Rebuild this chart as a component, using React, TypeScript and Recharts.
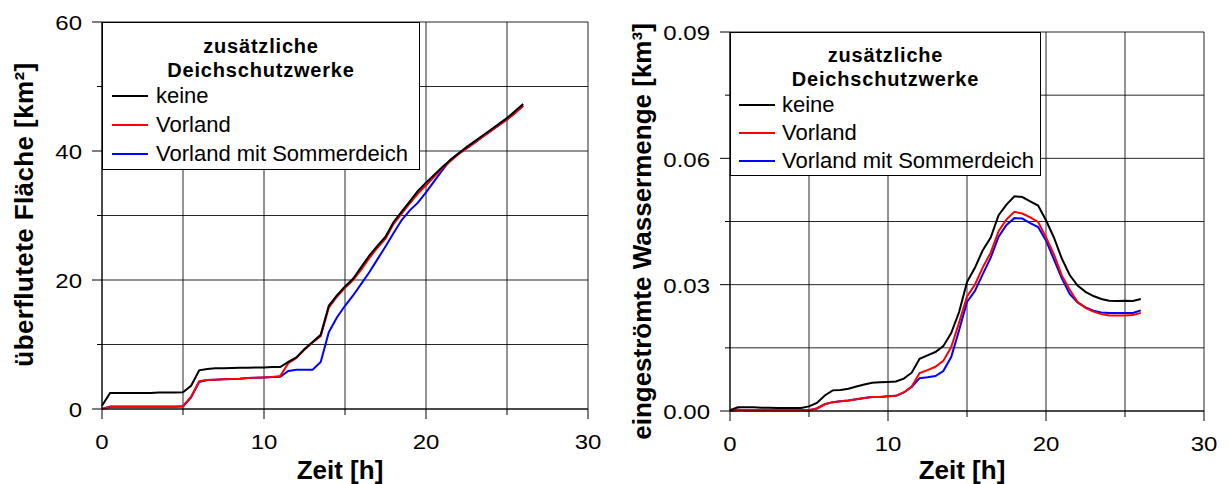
import React from 'react';
import { LineChart, Line, XAxis, YAxis, CartesianGrid, Legend, Label } from 'recharts';

const FONT = '"Liberation Sans", Arial, Helvetica, sans-serif';

// Zeit [h]
const zeit = [
  0, 0.5, 1, 1.5, 2, 2.5, 3, 3.5, 4, 4.5, 5, 5.5, 6, 6.5, 7, 7.5, 8, 8.5, 9, 9.5,
  10, 10.5, 11, 11.5, 12, 12.5, 13, 13.5, 14, 14.5, 15, 15.5, 16, 16.5, 17, 17.5,
  18, 18.5, 19, 19.5, 20, 20.5, 21, 21.5, 22, 22.5, 23, 23.5, 24, 24.5, 25, 25.5, 26,
];

// überflutete Fläche [km²]
const flaecheKeine = [
  0.5, 2.5, 2.5, 2.5, 2.5, 2.5, 2.5, 2.55, 2.55, 2.55, 2.6, 3.6, 6.0, 6.2, 6.3, 6.3, 6.35, 6.4, 6.4, 6.45,
  6.45, 6.5, 6.5, 7.3, 8.0, 9.3, 10.4, 11.5, 16.0, 17.6, 19.0, 20.2, 22.0, 23.8, 25.3, 26.7,
  29.0, 30.6, 32.2, 33.8, 35.1, 36.3, 37.5, 38.6, 39.6, 40.6, 41.5, 42.4, 43.3, 44.2, 45.1, 46.2, 47.3,
];
const flaecheVorland = [
  0, 0.4, 0.4, 0.4, 0.4, 0.4, 0.4, 0.4, 0.4, 0.4, 0.45, 1.9, 4.3, 4.5, 4.55, 4.6, 4.65, 4.7, 4.8, 4.85,
  4.9, 4.95, 5.1, 7.1, 7.9, 9.2, 10.3, 11.3, 15.7, 17.4, 18.8, 20.0, 21.6, 23.4, 25.0, 26.4,
  28.7, 30.3, 31.9, 33.4, 34.7, 36.0, 37.3, 38.4, 39.5, 40.4, 41.3, 42.2, 43.1, 44.0, 44.9, 45.9, 47.0,
];
const flaecheSommerdeich = [
  0, 0.35, 0.35, 0.35, 0.35, 0.35, 0.35, 0.35, 0.35, 0.35, 0.4, 1.8, 4.2, 4.5, 4.55, 4.6, 4.65, 4.7, 4.8, 4.85,
  4.9, 4.95, 5.0, 5.9, 6.1, 6.1, 6.1, 7.3, 11.9, 14.2, 16.0, 17.6, 19.4, 21.2, 23.2, 25.2,
  27.3, 29.3, 30.8, 32.0, 33.6, 35.3, 37.0, 38.6, 39.6, 40.4, 41.3, 42.2, 43.1, 44.0, 44.9, 45.9, 47.0,
];

// eingeströmte Wassermenge [km³]
const mengeKeine = [
  0.0002, 0.0009, 0.0009, 0.0009, 0.0008, 0.0008, 0.0007, 0.0007, 0.0007, 0.0007, 0.0011, 0.0019, 0.0037, 0.0049, 0.0050, 0.0053, 0.0058, 0.0063, 0.0067, 0.0068,
  0.0069, 0.0070, 0.0077, 0.0091, 0.0124, 0.0132, 0.0140, 0.0154, 0.0185, 0.0235, 0.0306, 0.0340, 0.0382, 0.0412, 0.0465, 0.0490,
  0.0510, 0.0508, 0.0498, 0.0488, 0.0453, 0.0412, 0.0362, 0.0323, 0.0298, 0.0283, 0.0273, 0.0266, 0.0262, 0.0261, 0.0262, 0.0261, 0.0266,
];
const mengeVorland = [
  0, 0.0003, 0.0002, 0.0002, 0.0002, 0.0002, 0.0002, 0.0002, 0.0002, 0.0002, 0.0002, 0.0006, 0.0016, 0.0021, 0.0023, 0.0025, 0.0028, 0.0031, 0.0033, 0.0033,
  0.0035, 0.0036, 0.0044, 0.0058, 0.0090, 0.0097, 0.0105, 0.0119, 0.0152, 0.0210, 0.0272, 0.0300, 0.0341, 0.0376, 0.0427, 0.0455,
  0.0473, 0.0469, 0.0460, 0.0449, 0.0413, 0.0372, 0.0322, 0.0288, 0.0259, 0.0245, 0.0236, 0.0230, 0.0227, 0.0227, 0.0227, 0.0228, 0.0233,
];
const mengeSommerdeich = [
  0, 0.0003, 0.0002, 0.0002, 0.0002, 0.0002, 0.0002, 0.0002, 0.0002, 0.0002, 0.0002, 0.0006, 0.0016, 0.0021, 0.0023, 0.0025, 0.0028, 0.0031, 0.0033, 0.0033,
  0.0035, 0.0036, 0.0044, 0.0057, 0.0078, 0.0080, 0.0083, 0.0095, 0.0128, 0.0192, 0.0259, 0.0285, 0.0325, 0.0364, 0.0414, 0.0442,
  0.0458, 0.0457, 0.0446, 0.0437, 0.0405, 0.0360, 0.0315, 0.0278, 0.0258, 0.0246, 0.0238, 0.0234, 0.0233, 0.0233, 0.0233, 0.0233, 0.0239,
];

const xTicks = [0, 5, 10, 15, 20, 25, 30];
const xMajor = [0, 10, 20, 30];
const flaecheTicks = [0, 10, 20, 30, 40, 50, 60];
const flaecheMajor = [0, 20, 40, 60];
const mengeTicks = [0, 0.015, 0.03, 0.045, 0.06, 0.075, 0.09];
const mengeMajor = [0, 0.03, 0.06, 0.09];

const legendTitle = ['zusätzliche', 'Deichschutzwerke'];
const seriesKeys = ['keine', 'vorland', 'sommer'];
const seriesNames = ['keine', 'Vorland', 'Vorland mit Sommerdeich'];
const seriesColors = ['#000000', '#ff0000', '#0000ff'];

const flaecheData = zeit.map((t, i) => ({
  t,
  keine: flaecheKeine[i],
  vorland: flaecheVorland[i],
  sommer: flaecheSommerdeich[i],
}));
const mengeData = zeit.map((t, i) => ({
  t,
  keine: mengeKeine[i],
  vorland: mengeVorland[i],
  sommer: mengeSommerdeich[i],
}));

const isMajor = (v: number, majors: number[]) => majors.some((m) => Math.abs(m - v) < 1e-9);

const makeYTick = (majors: number[], fmt: (v: number) => string) => (p: any) => {
  const { x, y, payload } = p;
  const v = payload.value;
  const major = isMajor(v, majors);
  const len = major ? 10 : 5;
  return (
    <g>
      <line x1={x - len} y1={y} x2={x} y2={y} stroke="#000" strokeWidth={1} />
      {major && (
        <text
          transform={`translate(${x - 20},${y + 1.5}) scale(1.2,1)`}
          x={0}
          y={0}
          textAnchor="end"
          dominantBaseline="central"
          fontSize={20}
          fontFamily={FONT}
          fill="#000"
        >
          {fmt(v)}
        </text>
      )}
    </g>
  );
};

const makeXTick = (majors: number[]) => (p: any) => {
  const { x, y, payload } = p;
  const v = payload.value;
  const major = isMajor(v, majors);
  const len = major ? 10 : 6;
  return (
    <g>
      <line x1={x} y1={y} x2={x} y2={y + len} stroke="#000" strokeWidth={1} />
      {major && (
        <text
          transform={`translate(${x},${y + 33}) scale(1.2,1)`}
          x={0}
          y={0}
          textAnchor="middle"
          dominantBaseline="central"
          fontSize={20}
          fontFamily={FONT}
          fill="#000"
        >
          {String(v)}
        </text>
      )}
    </g>
  );
};

type LegendCfg = {
  left: number;
  top: number;
  width: number;
  height: number;
  rows: number[];
  lineX: number;
  textX: number;
};

const makeLegend = (cfg: LegendCfg) => () => (
  <div
    style={{
      position: 'relative',
      width: cfg.width,
      height: cfg.height,
      boxSizing: 'border-box',
      border: '1px solid #000',
      background: '#fff',
      fontFamily: FONT,
      color: '#000',
    }}
  >
    {legendTitle.map((t, i) => (
      <div
        key={t}
        style={{
          position: 'absolute',
          left: 0,
          width: '100%',
          top: cfg.rows[i],
          transform: 'translateY(-50%)',
          textAlign: 'center',
          fontWeight: 'bold',
          fontSize: 20,
          letterSpacing: 0.8,
          lineHeight: 1,
          whiteSpace: 'nowrap',
        }}
      >
        {t}
      </div>
    ))}
    {seriesNames.map((n, i) => (
      <React.Fragment key={n}>
        <div
          style={{
            position: 'absolute',
            left: cfg.lineX,
            width: 36,
            height: 2,
            top: cfg.rows[i + 2] - 1,
            background: seriesColors[i],
          }}
        />
        <div
          style={{
            position: 'absolute',
            left: cfg.textX,
            top: cfg.rows[i + 2],
            transform: 'translateY(-50%)',
            fontSize: 22,
            lineHeight: 1,
            whiteSpace: 'nowrap',
          }}
        >
          {n}
        </div>
      </React.Fragment>
    ))}
  </div>
);

const yTitle = (text: string, dx: number, dy: number, spacing: number) => (props: any) => {
  const vb = props.viewBox || { x: 0, y: 0, width: 0, height: 0 };
  const cx = vb.x + dx;
  const cy = vb.y + vb.height / 2 + dy;
  return (
    <text
      x={cx}
      y={cy}
      transform={`rotate(-90,${cx},${cy})`}
      textAnchor="middle"
      dominantBaseline="central"
      fontSize={26}
      fontWeight="bold"
      fontFamily={FONT}
      fill="#000"
      style={{ letterSpacing: spacing }}
    >
      {text}
    </text>
  );
};

const xTitle = (text: string, dy: number) => (props: any) => {
  const vb = props.viewBox || { x: 0, y: 0, width: 0, height: 0 };
  const cx = vb.x + vb.width / 2 - 5;
  const cy = vb.y + dy;
  return (
    <text
      x={cx}
      y={cy}
      textAnchor="middle"
      dominantBaseline="central"
      fontSize={26}
      fontWeight="bold"
      fontFamily={FONT}
      fill="#000"
    >
      {text}
    </text>
  );
};

type PanelProps = {
  data: any[];
  yDomain: [number, number];
  yTicks: number[];
  yMajor: number[];
  fmt: (v: number) => string;
  margin: { top: number; right: number; bottom: number; left: number };
  yWidth: number;
  xHeight: number;
  legend: LegendCfg;
  yLabel: string;
  yLabelDx: number;
  yLabelDy: number;
  yLabelSpacing: number;
  xLabelDy: number;
};

const Panel = (p: PanelProps) => (
  <LineChart width={614} height={484} data={p.data} margin={p.margin}>
    <CartesianGrid stroke="#000" strokeWidth={1} strokeOpacity={0.85} />
    <XAxis
      dataKey="t"
      type="number"
      domain={[0, 30]}
      ticks={xTicks}
      interval={0}
      tickSize={0}
      tickMargin={0}
      tickLine={false}
      axisLine={{ stroke: '#000', strokeWidth: 1 }}
      height={p.xHeight}
      tick={makeXTick(xMajor)}
    >
      <Label content={xTitle('Zeit [h]', p.xLabelDy)} />
    </XAxis>
    <YAxis
      type="number"
      domain={p.yDomain}
      ticks={p.yTicks}
      interval={0}
      tickSize={0}
      tickMargin={0}
      tickLine={false}
      axisLine={{ stroke: '#000', strokeWidth: 1 }}
      width={p.yWidth}
      tick={makeYTick(p.yMajor, p.fmt)}
    >
      <Label content={yTitle(p.yLabel, p.yLabelDx, p.yLabelDy, p.yLabelSpacing)} />
    </YAxis>
    <Legend
      layout="vertical"
      align="center"
      verticalAlign="middle"
      content={makeLegend(p.legend)}
      wrapperStyle={{
        left: p.legend.left,
        top: p.legend.top,
        width: p.legend.width,
        height: p.legend.height,
        margin: 0,
        padding: 0,
      }}
    />
    {[2, 1, 0].map((i) => (
      <Line
        key={seriesKeys[i]}
        type="linear"
        dataKey={seriesKeys[i]}
        name={seriesNames[i]}
        stroke={seriesColors[i]}
        strokeWidth={2}
        dot={false}
        activeDot={false}
        isAnimationActive={false}
      />
    ))}
  </LineChart>
);

export default function App() {
  return (
    <div
      style={{
        position: 'absolute',
        left: 0,
        top: 0,
        width: 1228,
        height: 484,
        background: '#fff',
        overflow: 'hidden',
        fontFamily: FONT,
      }}
    >
      <div style={{ position: 'absolute', left: 0, top: 0 }}>
        <Panel
          data={flaecheData}
          yDomain={[0, 60]}
          yTicks={flaecheTicks}
          yMajor={flaecheMajor}
          fmt={(v) => String(v)}
          margin={{ top: 22, right: 26, bottom: 0, left: 0 }}
          yWidth={102}
          xHeight={75}
          legend={{ left: 102, top: 22, width: 318, height: 148, rows: [23, 47, 73, 102, 131], lineX: 9, textX: 53 }}
          yLabel="überflutete Fläche [km²]"
          yLabelDx={24}
          yLabelDy={-1}
          yLabelSpacing={0.4}
          xLabelDy={61}
        />
      </div>
      <div style={{ position: 'absolute', left: 614, top: 0 }}>
        <Panel
          data={mengeData}
          yDomain={[0, 0.09]}
          yTicks={mengeTicks}
          yMajor={mengeMajor}
          fmt={(v) => v.toFixed(2)}
          margin={{ top: 32, right: 24, bottom: 0, left: 0 }}
          yWidth={116}
          xHeight={73}
          legend={{ left: 116, top: 32, width: 311, height: 144, rows: [22, 46, 72, 100, 128], lineX: 8, textX: 51 }}
          yLabel="eingeströmte Wassermenge [km³]"
          yLabelDx={28}
          yLabelDy={10}
          yLabelSpacing={0}
          xLabelDy={59}
        />
      </div>
    </div>
  );
}
